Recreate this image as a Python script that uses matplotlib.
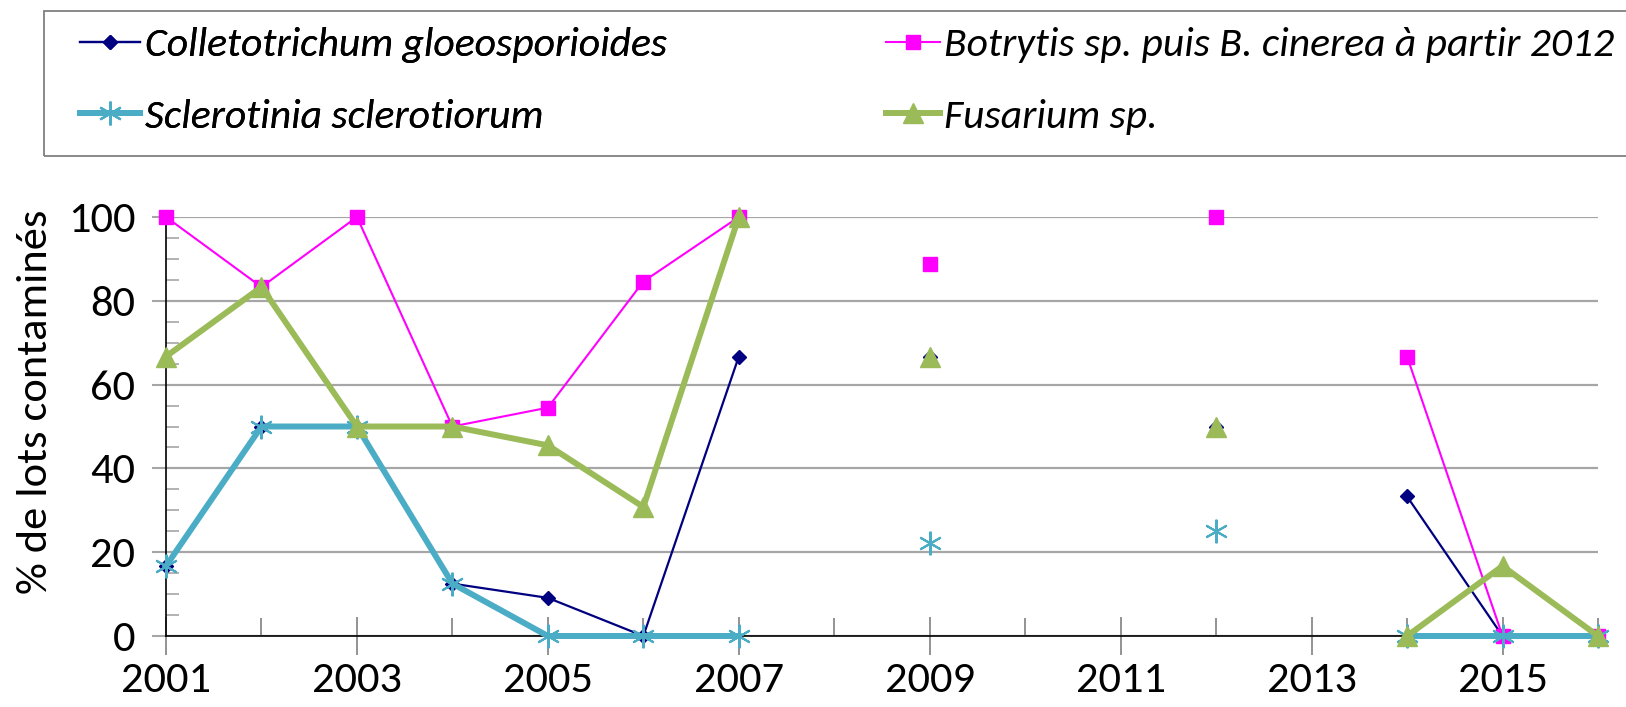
import numpy as np
import matplotlib
matplotlib.use('Agg')
import matplotlib.pyplot as plt
from matplotlib.lines import Line2D
from matplotlib.patches import Rectangle
from matplotlib.ticker import MultipleLocator, FixedLocator

plt.rcParams['font.family'] = ['Carlito', 'Lato', 'DejaVu Sans']

nan = np.nan
years = [2001, 2002, 2003, 2004, 2005, 2006, 2007, 2008, 2009, 2010, 2011, 2012, 2013, 2014, 2015, 2016]
colletotrichum = [16.7, 50, 50, 12.5, 9.1, 0, 66.7, nan, 66.7, nan, nan, 50, nan, 33.3, 0, 0]
botrytis = [100, 83.3, 100, 50, 54.5, 84.6, 100, nan, 88.9, nan, nan, 100, nan, 66.7, 0, 0]
sclerotinia = [16.7, 50, 50, 12.5, 0, 0, 0, nan, 22.2, nan, nan, 25, nan, 0, 0, 0]
fusarium = [66.7, 83.3, 50, 50, 45.5, 30.8, 100, nan, 66.7, nan, nan, 50, nan, 0, 16.7, 0]

labels = ['Colletotrichum gloeosporioides', 'Botrytis sp. puis B. cinerea à partir 2012',
          'Sclerotinia sclerotiorum', 'Fusarium sp.']
xtick_labels = ['2001', '2003', '2005', '2007', '2009', '2011', '2013', '2015']

W, H = 1626, 707
fig = plt.figure(figsize=(W / 100, H / 100), dpi=100)
ax = fig.add_axes([166 / W, 1 - 636 / H, (1598 - 166) / W, (636 - 217) / H])

FS = 32
LFS = 30
styles = [
    dict(color='#000080', lw=1.6, marker='D', ms=7.5, mec='#000080'),
    dict(color='#FF00FF', lw=1.5, marker='s', ms=9.5, mec='#FF00FF'),
    dict(color='#4BACC6', lw=4.3, marker=(6, 2, 0), ms=17, mew=1.5, mec='#4BACC6'),
    dict(color='#9BBB59', lw=4.3, marker='^', ms=15, mec='#9BBB59'),
]
series = [colletotrichum, botrytis, sclerotinia, fusarium]
for i, (vals, st) in enumerate(zip(series, styles)):
    ax.plot(years, vals, zorder=3 + i, clip_on=False, **st)

ax.set_xlim(2001, 2016)
ax.set_ylim(0, 100)
for s in ['top', 'right']:
    ax.spines[s].set_visible(False)
for s in ['left', 'bottom']:
    ax.spines[s].set_color('black')
    ax.spines[s].set_linewidth(1.2)

ax.yaxis.set_major_locator(MultipleLocator(20))
ax.yaxis.set_minor_locator(MultipleLocator(5))
ax.xaxis.set_major_locator(FixedLocator(list(range(2001, 2017, 2))))
ax.xaxis.set_minor_locator(MultipleLocator(1))
ax.set_xticklabels(xtick_labels)
ax.grid(axis='y', which='major', color='#A6A6A6', lw=1.6, zorder=0)
ax.set_axisbelow(True)

ax.tick_params(axis='y', which='major', direction='out', length=10, width=1.5,
               color='#A6A6A6', labelsize=FS, pad=12)
ax.tick_params(axis='y', which='minor', direction='in', length=9, width=1.2, color='#A6A6A6')
ax.tick_params(axis='x', which='major', direction='inout', length=28, width=1.2,
               color='#808080', labelsize=FS, pad=5)
ax.tick_params(axis='x', which='minor', direction='in', length=13, width=1.2, color='#808080')

fig.text(36 / W, 1 - 402 / H, '% de lots contaminés', rotation=90, ha='center', va='center',
         fontsize=FS)

# legend
handles = [Line2D([], [], **st) for st in styles]
common = dict(loc='center left', frameon=False, borderpad=0, borderaxespad=0,
              handletextpad=0.1, labelspacing=0.85, prop=dict(size=LFS, style='italic'))
leg1 = fig.legend([handles[0], handles[2]], [labels[0], labels[2]],
                  bbox_to_anchor=(80 / W, 1 - 81 / H), handlelength=1.45, **common)
leg2 = fig.legend([handles[1], handles[3]], [labels[1], labels[3]],
                  bbox_to_anchor=(886 / W, 1 - 81 / H), handlelength=1.3, **common)
fig.add_artist(leg1)
fig.add_artist(Rectangle((44 / W, 1 - 156 / H), 1.2, 145 / H, transform=fig.transFigure,
                         fill=False, edgecolor='#808080', lw=1.3))

fig.savefig('out.png', dpi=100)
